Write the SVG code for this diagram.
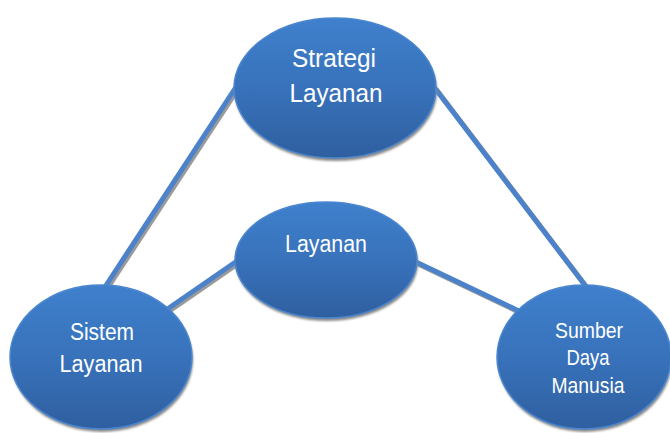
<svg xmlns="http://www.w3.org/2000/svg" width="670" height="433" viewBox="0 0 670 433">
<defs>
<linearGradient id="g" x1="0" y1="0" x2="0" y2="1">
<stop offset="0" stop-color="#3f80cc"/>
<stop offset="0.5" stop-color="#3872bb"/>
<stop offset="1" stop-color="#2f5f9f"/>
</linearGradient>
<filter id="sh" x="-10%" y="-10%" width="120%" height="130%">
<feGaussianBlur stdDeviation="1.2"/>
</filter>
</defs>
<style>
.shadow{fill:#8a8a8a;filter:url(#sh);}
.node{fill:url(#g);stroke:#4a86d0;stroke-width:1.5;}
.t{fill:#fff;font-family:"Liberation Sans",Arial,sans-serif;text-anchor:middle;}
.ls{stroke:#9a9a9a;stroke-width:5;fill:none;}
.l{stroke:#4b82c9;stroke-width:5;fill:none;}
</style>
<rect width="670" height="433" fill="#fff"/>
<g id="connectors">
<line class="ls" x1="238" y1="89" x2="105" y2="292"/>
<line class="ls" x1="436" y1="89" x2="589" y2="290"/>
<line class="ls" x1="239" y1="263" x2="168" y2="312"/>
<line class="ls" x1="418" y1="264" x2="523" y2="314"/>
<line class="l" x1="236" y1="87" x2="103" y2="290"/>
<line class="l" x1="434" y1="87" x2="587" y2="288"/>
<line class="l" x1="237" y1="261" x2="166" y2="310"/>
<line class="l" x1="416" y1="262" x2="521" y2="312"/>
</g>
<g id="strategi">
<ellipse class="shadow" cx="336" cy="91" rx="101" ry="70"/>
<ellipse class="node" cx="335" cy="88" rx="101" ry="70"/>
<text class="t" font-size="26"><tspan x="334" y="67" textLength="84" lengthAdjust="spacingAndGlyphs">Strategi</tspan><tspan x="336" y="102" textLength="93" lengthAdjust="spacingAndGlyphs">Layanan</tspan></text>
</g>
<g id="layanan">
<ellipse class="shadow" cx="327" cy="263" rx="91" ry="58"/>
<ellipse class="node" cx="326" cy="260" rx="91" ry="58"/>
<text class="t" font-size="23"><tspan x="326" y="252" textLength="82" lengthAdjust="spacingAndGlyphs">Layanan</tspan></text>
</g>
<g id="sistem">
<ellipse class="shadow" cx="102" cy="360" rx="91" ry="72"/>
<ellipse class="node" cx="101" cy="357" rx="91" ry="72"/>
<text class="t" font-size="23"><tspan x="102" y="340" textLength="64" lengthAdjust="spacingAndGlyphs">Sistem</tspan><tspan x="101" y="372" textLength="83" lengthAdjust="spacingAndGlyphs">Layanan</tspan></text>
</g>
<g id="sdm">
<ellipse class="shadow" cx="585" cy="360" rx="87" ry="72"/>
<ellipse class="node" cx="584" cy="357" rx="87" ry="72"/>
<text class="t" font-size="22"><tspan x="589" y="338" textLength="68" lengthAdjust="spacingAndGlyphs">Sumber</tspan><tspan x="588" y="365" textLength="43" lengthAdjust="spacingAndGlyphs">Daya</tspan><tspan x="588" y="393" textLength="73" lengthAdjust="spacingAndGlyphs">Manusia</tspan></text>
</g>
</svg>
